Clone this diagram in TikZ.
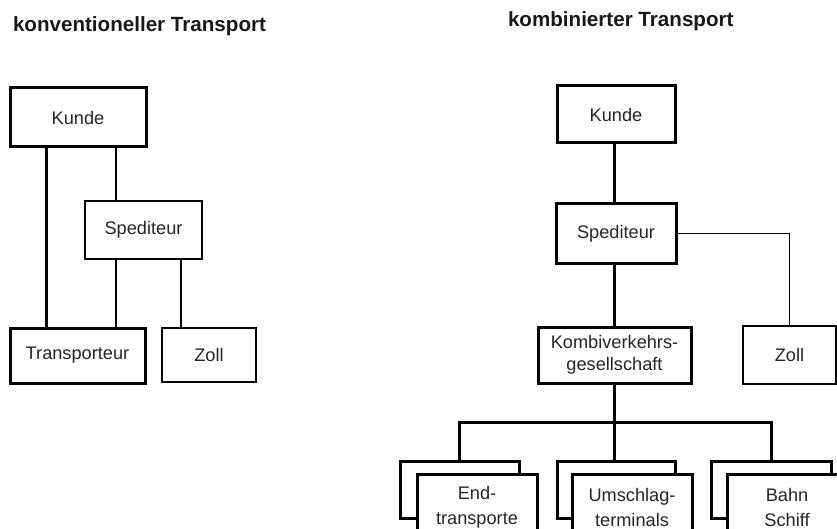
\documentclass[tikz,border=0pt]{standalone}
\usepackage{fontspec}
\setmainfont{Liberation Sans}
\begin{document}
\begin{tikzpicture}[x=1pt,y=-1pt,
  every node/.style={inner sep=0pt, outer sep=0pt, text=black!85},
  boxthin/.style={draw=black, line width=1.2pt, fill=white, font=\fontsize{18.2}{22}\selectfont, align=center},
  boxthick/.style={draw=black, line width=3pt, fill=white, font=\fontsize{18.2}{22}\selectfont, align=center},
  stackbox/.style={draw=black, line width=3pt, fill=white, font=\fontsize{18.2}{25}\selectfont, align=center},
  thinline/.style={draw=black, line width=1.2pt},
  thickline/.style={draw=black, line width=3pt},
  titlefont/.style={font=\fontsize{20.6}{24}\selectfont\bfseries, text=black!90}]
\clip (0,0) rectangle (837,529);
\fill[white] (0,0) rectangle (837,529);

% titles
\node[titlefont, anchor=base west] (t1) at (13,32) {konventioneller Transport};
\node[titlefont, anchor=base west] (t2) at (508,27) {kombinierter Transport};

% ---------- left diagram ----------
\node[boxthick, minimum width=136, minimum height=59] (lk) at (78,117.5) {Kunde};
\node[boxthin, minimum width=117, minimum height=58] (ls) at (143.5,230) {Spediteur};
\node[boxthick, minimum width=135, minimum height=55] (lt) at (77.5,355.5) {Transporteur};
\node[boxthin, minimum width=94, minimum height=54] (lz) at (209,355) {Zoll};

\coordinate (xa) at (46,0);
\coordinate (xb) at (116,0);
\coordinate (xc) at (181,0);
\draw[thickline] (lk.south -| xa) -- (lt.north -| xa);
\draw[thinline] (lk.south -| xb) -- (ls.north -| xb);
\draw[thinline] (ls.south -| xb) -- (lt.north -| xb);
\draw[thinline] (ls.south -| xc) -- (lz.north -| xc);

% ---------- right diagram ----------
\node[boxthick, minimum width=118, minimum height=57] (rk) at (616,114.5) {Kunde};
\node[boxthick, minimum width=120, minimum height=59] (rs) at (616,233.5) {Spediteur};
\node[boxthin, minimum width=93, minimum height=58] (rz) at (789.5,355) {Zoll};
\node[boxthick, minimum width=153, minimum height=56] (ko) at (614.5,355) {Kombiverkehrs-\\gesellschaft};

\coordinate (xd) at (614,0);
\coordinate (bar) at (614,422);
\draw[thickline] (rk.south -| xd) -- (rs.north -| xd);
\draw[thickline] (rs.south -| xd) -- (ko.north -| xd);
\draw[thinline] (rs.east) -| (rz.north);
\draw[thickline] (ko.south -| xd) -- (bar);

% stacked boxes (back)
\node[stackbox, minimum width=119, minimum height=57] (b1) at (459.5,489.5) {};
\node[stackbox, minimum width=118, minimum height=57] (b2) at (616,489.5) {};
\node[stackbox, minimum width=120, minimum height=57] (b3) at (771,489.5) {};
% stacked boxes (front)
\node[stackbox, minimum width=120, minimum height=65] (f1) at (477,507) {End-\\transporte};
\node[stackbox, minimum width=120, minimum height=65] (f2) at (632,507) {Umschlag-\\terminals};
\node[stackbox, minimum width=120, minimum height=65] (f3) at (787,507) {Bahn\\Schiff};

\draw[thickline] (b1.north) |- (bar) -| (b3.north);
\draw[thickline] (bar) -- (b2.north -| bar);
\end{tikzpicture}
\end{document}
